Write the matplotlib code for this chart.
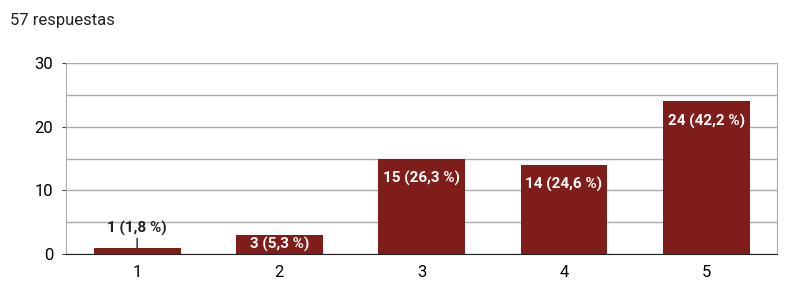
import matplotlib.pyplot as plt
from matplotlib import font_manager

# pick a narrow font if there is one
names = set(f.name for f in font_manager.fontManager.ttflist)
fam = 'Liberation Sans Narrow' if 'Liberation Sans Narrow' in names else 'Roboto'
plt.rcParams['font.family'] = [fam, 'DejaVu Sans']

categories = ['1', '2', '3', '4', '5']
counts = [1, 3, 15, 14, 24]
labels = ['1 (1,8 %)', '3 (5,3 %)', '15 (26,3 %)', '14 (24,6 %)', '24 (42,2 %)']
yticks = [0, 10, 20, 30]
bar_color = '#7f1d1a'

fig = plt.figure(figsize=(7.93, 2.91), dpi=100)
ax = fig.add_axes([0.0832, 0.127, 0.897, 0.6565])

x = list(range(len(categories)))
bars = ax.bar(x, counts, width=0.61, color=bar_color, zorder=3)

ax.set_xlim(-0.5, 4.5)
ax.set_ylim(0, 30)
ax.set_yticks(yticks)
ax.set_yticks([5, 15, 25], minor=True)
ax.set_xticks(x)
ax.set_xticklabels(categories)
ax.grid(axis='y', which='both', color='#aaaaaa', linewidth=1, zorder=0)
ax.tick_params(axis='x', length=0, labelsize=12, pad=8)
ax.tick_params(axis='y', which='major', length=3, labelsize=12, color='#444444', pad=6)
ax.tick_params(axis='y', which='minor', length=0)

for s in ['left', 'right', 'top']:
    ax.spines[s].set_color('#aaaaaa')
ax.spines['bottom'].set_color('#222222')

for i, (b, v, lab) in enumerate(zip(bars, counts, labels)):
    cx = b.get_x() + b.get_width() / 2
    if v < 2:
        ax.annotate(lab, xy=(cx, v), xytext=(0, 12), textcoords='offset pixels',
                    ha='center', va='bottom', fontsize=11, fontweight='bold',
                    color='#222222', zorder=4,
                    arrowprops=dict(arrowstyle='-', color='#222222', lw=1,
                                    shrinkA=0, shrinkB=0))
    elif v < 5:
        ax.text(cx, v / 2, lab, ha='center', va='center', fontsize=11,
                fontweight='bold', color='white', zorder=4)
    else:
        ax.annotate(lab, xy=(cx, v), xytext=(0, -20), textcoords='offset pixels',
                    ha='center', va='center', fontsize=11, fontweight='bold',
                    color='white', zorder=4)

fig.text(10 / 793, 1 - 20 / 291, '57 respuestas', fontsize=12, va='center',
         ha='left', color='#222222')

fig.savefig('out.png', dpi=100)
